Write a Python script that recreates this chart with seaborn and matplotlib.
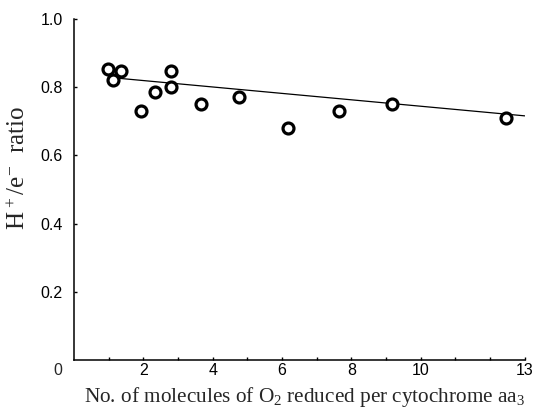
import matplotlib
matplotlib.use("Agg")
import matplotlib.pyplot as plt
import seaborn as sns
import pandas as pd

# measured points (O2 per aa3, H+/e- ratio)
o2_per_aa3 = [0.97, 1.12, 1.35, 1.93, 2.33, 2.79, 2.80, 3.66, 4.75, 6.18, 7.64, 9.17, 12.47]
h_e_ratio = [0.852, 0.821, 0.848, 0.731, 0.787, 0.800, 0.848, 0.751, 0.770, 0.681, 0.730, 0.751, 0.711]

# fitted line end points
fit_x = [1.1, 13.0]
fit_y = [0.828, 0.716]

x_ticks = list(range(1, 14))
x_tick_labels = ["", "2", "", "4", "", "6", "", "8", "", "10", "", "", "13"]
y_ticks = [0.2, 0.4, 0.6, 0.8, 1.0]
y_tick_labels = ["0.2", "0.4", "0.6", "0.8", "1.0"]

points = pd.DataFrame({"x": o2_per_aa3, "y": h_e_ratio})
fit = pd.DataFrame({"x": fit_x, "y": fit_y})

sns.set_theme(style="ticks")
plt.rcParams["font.family"] = ["Liberation Sans", "DejaVu Sans"]
plt.rcParams["mathtext.fontset"] = "custom"
plt.rcParams["mathtext.rm"] = "Liberation Serif"
plt.rcParams["mathtext.it"] = "Liberation Serif:italic"

fig = plt.figure(figsize=(5.36, 4.08), dpi=100)
ax = fig.add_axes([0.138, 0.1176, 0.841, 0.8358])

sns.lineplot(data=fit, x="x", y="y", ax=ax, color="black", linewidth=0.9, zorder=2)
sns.scatterplot(data=points, x="x", y="y", ax=ax, s=62, facecolor="white",
                edgecolor="black", linewidth=2.3, zorder=3)

ax.set_xlim(0, 13)
ax.set_ylim(0, 1.0)
ax.set_xticks(x_ticks)
ax.set_xticklabels(x_tick_labels)
ax.set_yticks(y_ticks)
ax.set_yticklabels(y_tick_labels)
ax.tick_params(axis="both", direction="in", length=2.5, width=1.0, labelsize=11.5, colors="black")
ax.tick_params(axis="x", pad=2.5)
ax.tick_params(axis="y", pad=8)
for side in ["left", "bottom"]:
    ax.spines[side].set_linewidth(1.1)
    ax.spines[side].set_color("black")
sns.despine(ax=ax)

# origin label
ax.annotate("0", xy=(0, 0), xytext=(-11.5, -2.5), textcoords="offset points",
            ha="center", va="top", fontsize=11.5)

ax.set_xlabel(r"No. of molecules of O$_2$ reduced per cytochrome aa$_3$",
              fontfamily="Liberation Serif", fontsize=15.3)
ax.set_ylabel(r"H$^{\,+}$/e$^{-}$  ratio", fontfamily="Liberation Serif", fontsize=18)
ax.xaxis.set_label_coords(0.512, -0.072)
ax.yaxis.set_label_coords(-0.098, 0.563)

fig.savefig("out.png", dpi=100)
